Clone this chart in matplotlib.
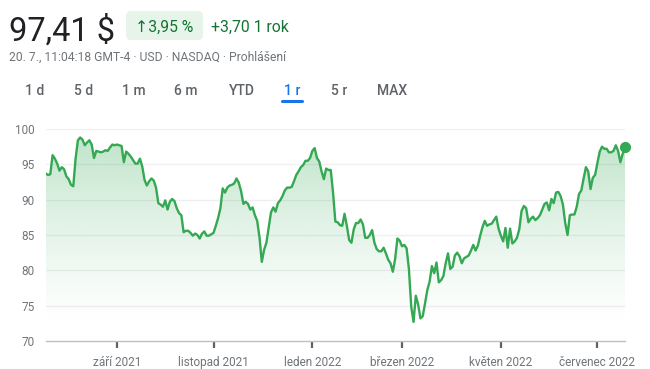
import numpy as np
import pandas as pd
import matplotlib
matplotlib.use("Agg")
import matplotlib.pyplot as plt
from matplotlib.patches import FancyBboxPatch

# ---------------- data ----------------
start_date = "2021-07-20"
end_date = "2022-07-20"
nyse_holidays = ["2021-09-06", "2021-11-25", "2021-12-24", "2022-01-17",
                 "2022-02-21", "2022-04-15", "2022-05-30", "2022-06-20",
                 "2022-07-04"]

prices = [
    93.7, 93.5, 93.6, 96.3, 95.8, 95.1, 94.1, 94.6, 94.3, 93.3,
    92.9, 92.1, 91.9, 95.8, 98.4, 98.8, 98.5, 97.7, 98.1, 98.4,
    97.8, 95.9, 96.9, 96.8, 96.7, 96.8, 97.0, 96.9, 97.4, 97.8,
    97.7, 97.8, 97.7, 97.6, 95.3, 96.8, 96.5, 96.1, 95.6, 95.1,
    95.1, 95.8, 94.7, 92.8, 92.0, 92.6, 93.0, 92.7, 91.7, 89.5,
    89.3, 89.0, 89.9, 88.6, 89.7, 90.1, 89.8, 88.8, 88.1, 87.8,
    85.4, 85.6, 85.6, 85.3, 84.9, 85.2, 85.0, 84.5, 85.2, 85.5,
    84.9, 84.9, 85.1, 85.3, 86.3, 87.4, 88.8, 91.6, 91.0, 91.7,
    92.0, 92.1, 92.3, 93.0, 92.4, 91.2, 89.4, 89.7, 89.4, 88.6,
    88.9, 87.8, 87.0, 84.7, 81.2, 82.9, 83.9, 86.0, 88.2, 88.9,
    88.3, 89.5, 89.9, 90.5, 91.3, 91.7, 91.7, 91.8, 92.6, 93.5,
    94.0, 94.6, 94.9, 95.5, 95.5, 95.9, 96.9, 97.3, 95.9, 95.4,
    94.0, 92.9, 94.4, 94.2, 94.2, 91.0, 86.9, 86.8, 86.4, 86.3,
    88.0, 86.3, 84.3, 83.9, 85.8, 86.7, 86.7, 87.2, 86.5, 84.6,
    84.6, 85.0, 85.7, 83.9, 83.0, 82.7, 82.7, 83.2, 82.4, 81.5,
    81.0, 79.8, 81.6, 84.5, 84.2, 83.4, 83.6, 83.1, 80.2, 74.9,
    72.7, 76.4, 75.2, 73.2, 73.5, 75.3, 77.2, 78.4, 80.6, 79.6,
    81.1, 78.3, 78.6, 79.2, 81.0, 82.4, 80.2, 80.5, 82.1, 82.5,
    82.0, 81.0, 81.7, 81.9, 82.1, 82.8, 83.6, 82.8, 83.5, 84.9,
    86.1, 87.0, 86.3, 86.5, 86.6, 87.1, 87.6, 85.9, 84.9, 84.1,
    86.0, 83.2, 85.9, 83.8, 84.1, 84.6, 85.8, 88.4, 89.1, 88.8,
    86.8, 87.3, 87.6, 87.1, 87.4, 87.8, 88.6, 89.4, 89.6, 88.5,
    90.1, 89.5, 91.0, 91.1, 90.5, 89.3, 86.7, 85.0, 87.8, 87.9,
    87.9, 89.0, 90.8, 91.3, 93.0, 94.6, 94.0, 91.5, 93.1, 93.5,
    95.2, 96.8, 97.5, 97.2, 97.2, 96.7, 96.7, 96.9, 97.7, 96.9,
    95.3, 96.5, 97.41,
]

tick_months = ["2021-09", "2021-11", "2022-01", "2022-03", "2022-05", "2022-07"]
tick_labels = ["září 2021", "listopad 2021", "leden 2022",
               "březen 2022", "květen 2022", "červenec 2022"]
y_ticks = [70, 75, 80, 85, 90, 95, 100]

price_text = "97,41 $"
change_pct = "↑3,95 %"
change_abs = "+3,70 1 rok"
subtitle = "20. 7., 11:04:18 GMT-4 · USD · NASDAQ · Prohlášení"
ranges = ["1 d", "5 d", "1 m", "6 m", "YTD", "1 r", "5 r", "MAX"]
active_range = "1 r"

# ---------------- setup ----------------
plt.rcParams["font.family"] = ["Roboto", "DejaVu Sans"]

sessions = pd.bdate_range(start_date, end_date, freq="C", holidays=nyse_holidays)
x = np.arange(len(sessions))
y = np.array(prices)

W, H = 650, 369
fig = plt.figure(figsize=(W / 100, H / 100), dpi=100)
fig.patch.set_facecolor("white")

# overlay in pixel units (y downwards) for header elements
hdr = fig.add_axes([0, 0, 1, 1], zorder=5)
hdr.set_xlim(0, W)
hdr.set_ylim(H, 0)
hdr.axis("off")
hdr.patch.set_alpha(0)

left, right, top, bottom = 45.7, 625.0, 129.0, 341.0
ax = fig.add_axes([left / W, 1 - bottom / H, (right - left) / W, (bottom - top) / H])
ax.set_facecolor("white")

green = "#34a853"
fill_rgb = matplotlib.colors.to_rgb("#34a853")

# gradient fill under the line
poly = ax.fill_between(x, y, 70, facecolor="none", edgecolor="none")
n = 256
img = np.zeros((n, 1, 4))
img[..., 0], img[..., 1], img[..., 2] = fill_rgb
ramp = np.linspace(0, 1, n)
img[:, 0, 3] = np.clip((ramp - 0.08) / 0.92, 0, 1) ** 1.2 * 0.32
im = ax.imshow(img, extent=[0, len(x) - 1, 70, 100], origin="lower",
               aspect="auto", interpolation="bilinear", zorder=1)
im.set_clip_path(poly.get_paths()[0], transform=ax.transData)

ax.plot(x, y, color=green, lw=1.7, zorder=3, solid_joinstyle="round")
ax.plot([x[-1]], [y[-1]], "o", color=green, ms=7, zorder=4, clip_on=False)

ax.set_xlim(0, len(x) - 1)
ax.set_ylim(70, 100)

for v in y_ticks[1:]:
    ax.axhline(v, color="#eeeff1", lw=0.9, zorder=0)

for s in ["top", "right", "left"]:
    ax.spines[s].set_visible(False)
ax.spines["bottom"].set_color("#bdc1c6")
ax.spines["bottom"].set_linewidth(1.0)

ax.set_yticks(y_ticks)
ax.set_yticklabels([str(v) for v in y_ticks])
ax.tick_params(axis="y", length=0, pad=8, labelsize=8.5, labelcolor="#70757a")

month_idx = []
for m in tick_months:
    mask = sessions.strftime("%Y-%m") == m
    month_idx.append(int(np.argmax(mask)))
ax.set_xticks(month_idx)
ax.set_xticklabels(tick_labels)
ax.tick_params(axis="x", length=5, width=1.6, color="#5f6368", pad=6,
               labelsize=8.5, labelcolor="#70757a", direction="out")

# ---------------- header ----------------
hdr.text(9, 41, price_text, fontsize=23.5, color="#202124", va="baseline", ha="left")

box = FancyBboxPatch((126, 11), 77, 29,
                     boxstyle="round,pad=0,rounding_size=5",
                     facecolor="#e6f4ea", edgecolor="none")
hdr.add_patch(box)
hdr.text(164.5, 31.5, change_pct, fontsize=11.3, color="#137333", va="baseline", ha="center")
hdr.text(211, 31.5, change_abs, fontsize=11.3, color="#137333", va="baseline", ha="left")

hdr.text(9, 60.5, subtitle, fontsize=8.7, color="#70757a", va="baseline", ha="left")

tab_centers = [35, 84, 134, 186, 242, 292, 339, 392]
for lab, cx in zip(ranges, tab_centers):
    col = "#1a73e8" if lab == active_range else "#5f6368"
    hdr.text(cx, 95, lab, fontsize=10, color=col, va="baseline", ha="center",
             fontweight="medium")
    if lab == active_range:
        hdr.plot([282, 302], [100.5, 100.5], color="#1a73e8", lw=2.2,
                 solid_capstyle="round")

fig.savefig("out.png", dpi=100, facecolor="white")
